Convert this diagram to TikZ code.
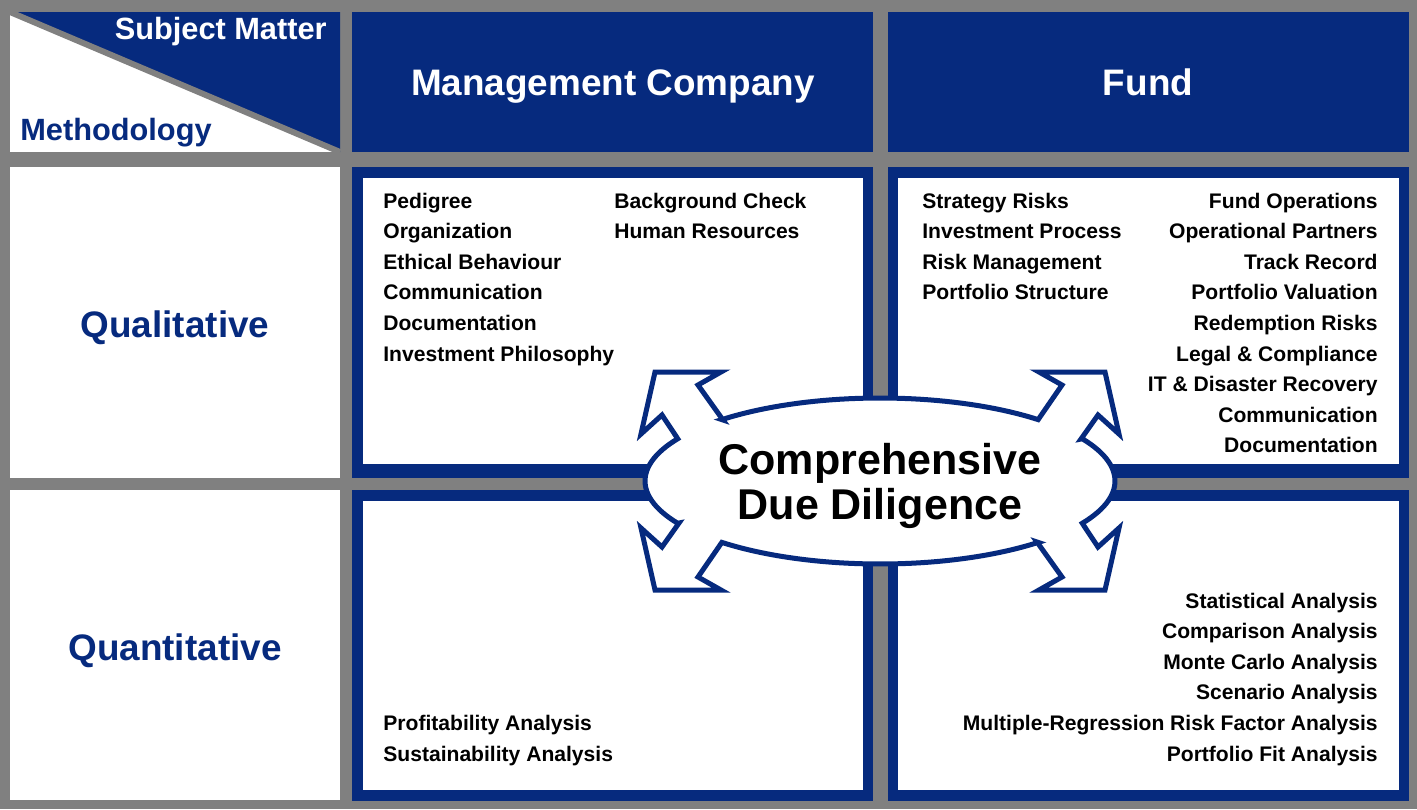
\documentclass[tikz,border=0pt]{standalone}
\usepackage{fontspec}
\setmainfont{Liberation Sans}
\definecolor{ddnavy}{RGB}{6,42,126}
\definecolor{ddgray}{RGB}{128,128,128}
\begin{document}
\begin{tikzpicture}[x=0.02cm,y=-0.02cm,
	item/.style={font=\fontsize{12}{14}\selectfont\bfseries,inner sep=0pt},
	head/.style={white,font=\fontsize{21}{24}\selectfont\bfseries,inner sep=0pt,anchor=base},
	rowlabel/.style={ddnavy,font=\fontsize{21}{24}\selectfont\bfseries,inner sep=0pt,anchor=base},
	corner/.style={font=\fontsize{17.5}{20}\selectfont\bfseries,inner sep=0pt},
	ddtext/.style={font=\fontsize{24.5}{26}\selectfont\bfseries,inner sep=0pt,anchor=base},
	cell/.style={fill=ddnavy},
	inner/.style={fill=white},
	ddshape/.style={draw=ddnavy,fill=white,line width=2.85pt,line join=miter}]
	\useasboundingbox (0,0) rectangle (1417,809);
	\fill[ddgray] (0,0) rectangle (1417,809);
	% corner cell
	\fill[white] (10,12) rectangle (340,152);
	\fill[ddnavy] (10,12)--(340,12)--(340,152)--cycle;
	\draw[ddgray,line width=3.4pt] (10,12)--(340,152);
	\node[corner,white,anchor=base east] at (327,39) (subj) {Subject Matter};
	\node[corner,ddnavy,anchor=base west] at (20,140) (meth) {Methodology};
	% column heads
	\fill[cell] (352,12) rectangle (873,152);
	\fill[cell] (888,12) rectangle (1409,152);
	\node[head] at (613,95) (mgmt) {Management Company};
	\node[head] at (1148,95) (fund) {Fund};
	% row heads
	\fill[white] (10,167) rectangle (340,478);
	\fill[white] (10,490) rectangle (340,800);
	\node[rowlabel] at (175,337) (qual) {Qualitative};
	\node[rowlabel] at (175,660) (quant) {Quantitative};
	% cells
	\fill[cell] (352,167) rectangle (873,478);
	\fill[cell] (888,167) rectangle (1409,478);
	\fill[cell] (352,490) rectangle (873,801);
	\fill[cell] (888,490) rectangle (1409,801);
	\fill[inner] (363,178) rectangle (863,464);
	\fill[inner] (898,178) rectangle (1399,464);
	\fill[inner] (363,501) rectangle (863,790);
	\fill[inner] (898,501) rectangle (1399,790);
	% qualitative items
	\foreach \txt [count=\i] in {Pedigree,Organization,Ethical Behaviour,Communication,Documentation,Investment Philosophy}
		\node[item,anchor=base west] at (383,{208+30.6*(\i-1)}) (mcqa\i) {\txt};
	\foreach \txt [count=\i] in {Background Check,Human Resources}
		\node[item,anchor=base west] at (614,{208+30.6*(\i-1)}) (mcqb\i) {\txt};
	\foreach \txt [count=\i] in {Strategy Risks,Investment Process,Risk Management,Portfolio Structure}
		\node[item,anchor=base west] at (922,{208+30.6*(\i-1)}) (fdqa\i) {\txt};
	\foreach \txt [count=\i] in {Fund Operations,Operational Partners,Track Record,Portfolio Valuation,Redemption Risks,Legal \& Compliance,IT \& Disaster Recovery,Communication,Documentation}
		\node[item,anchor=base east] at (1378,{208+30.6*(\i-1)}) (fdqb\i) {\txt};
	% quantitative items
	\foreach \txt [count=\i] in {Profitability Analysis,Sustainability Analysis}
		\node[item,anchor=base west] at (383,{730.4+30.6*(\i-1)}) (mcqn\i) {\txt};
	\foreach \txt [count=\i] in {Statistical Analysis,Comparison Analysis,Monte Carlo Analysis,Scenario Analysis,Multiple-Regression Risk Factor Analysis,Portfolio Fit Analysis}
		\node[item,anchor=base east] at (1378,{608+30.6*(\i-1)}) (fdqn\i) {\txt};
	% ellipse with four arrows
	\draw[ddshape] (723,420)
		-- plot[domain=227.7:312.3,samples=40] ({880+235*cos(\x)},{481+83*sin(\x)})
		-- (1062,385) -- (1039,372) -- (1105,372) -- (1119,434) -- (1098,415) -- (1081,439)
		-- plot[domain=-30.6:30.6,samples=30] ({880+235*cos(\x)},{481+83*sin(\x)})
		-- (1098,547) -- (1119,528) -- (1105,590) -- (1039,590) -- (1062,577) -- (1037,542)
		-- plot[domain=47.7:132.3,samples=40] ({880+235*cos(\x)},{481+83*sin(\x)})
		-- (698,577) -- (721,590) -- (655,590) -- (641,528) -- (662,547) -- (679,523)
		-- plot[domain=149.4:210.6,samples=30] ({880+235*cos(\x)},{481+83*sin(\x)})
		-- (662,415) -- (641,434) -- (655,372) -- (721,372) -- (698,385) -- cycle;
	\node[ddtext] at (880,474) (dd1) {Comprehensive};
	\node[ddtext] at (880,519) (dd2) {Due Diligence};
\end{tikzpicture}
\end{document}
